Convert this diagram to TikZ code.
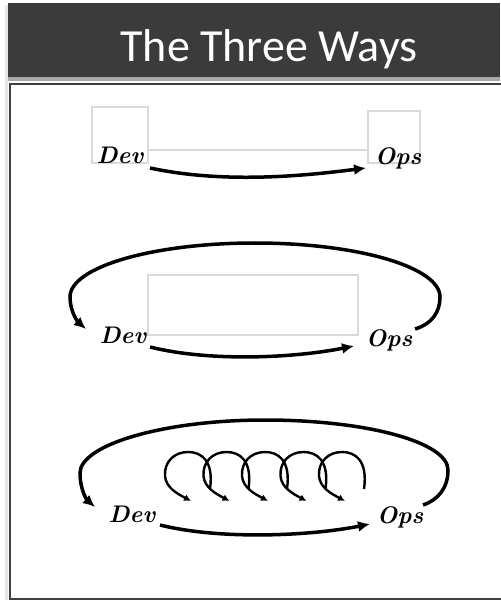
\documentclass[tikz,border=0pt]{standalone}
\usepackage{fontspec}
\newfontfamily\titlefont{Carlito}
\usetikzlibrary{arrows.meta,calc}
\definecolor{hdr}{HTML}{3B3B3B}
\definecolor{band}{HTML}{A8A8A8}
\definecolor{frame}{HTML}{404040}
\begin{document}
\begin{tikzpicture}[x=1pt,y=-1pt,
  hand/.style={font=\bfseries\itshape\fontsize{24}{24}\selectfont, inner sep=1pt},
  flow/.style={line width=3.5pt, -{Latex[length=12pt,width=11pt]}},
  curl/.style={line width=2.4pt, -{Latex[length=7pt,width=7pt]}},
  ghost/.style={draw=black!15, line width=1.2pt},
  ttl/.style={text=white, font=\titlefont\fontsize{46}{46}\selectfont, anchor=base, inner sep=0pt}]
\useasboundingbox (0,0) rectangle (500,601);
% shadow, header, frame
\fill[black!10] (5,5) rectangle (8,600);
\fill[hdr] (8,3) rectangle (500,77);
\fill[band] (8,77) rectangle (500,81);
\draw[frame, line width=2.4pt] (503,84) -- (10,84) -- (10,599) -- (503,599);
\node[ttl] (title) at (269,62) {The Three Ways};

% ---- diagram 1
\draw[ghost] (92,107) rectangle (148,163);
\draw[ghost] (368,111) rectangle (420,163);
\draw[ghost] (148,150) -- (368,150);
\node[hand] (dev1) at (120,155) {Dev};
\node[hand] (ops1) at (398,158) {Ops};
\draw[flow] ($(dev1)+(30,13)$) .. controls +(70,15) and +(-70,9) .. ($(ops1)+(-32,10)$);

% ---- diagram 2
\draw[ghost] (148,275) rectangle (358,335);
\node[hand] (dev2) at (123,335) {Dev};
\node[hand] (ops2) at (389,340) {Ops};
\draw[flow] ($(dev2)+(27,12)$) .. controls +(60,15) and +(-60,12) .. ($(ops2)+(-35,6)$);
\draw[flow] ($(ops2)+(26,-11)$) .. controls (432,324) and (440,312) .. (440,297)
  .. controls (440,267) and (357,243) .. (255,243)
  .. controls (153,243) and (70,267) .. (70,297)
  .. controls (70,312) and (78,322) .. ($(dev2)+(-37,-6)$);

% ---- diagram 3
\node[hand] (dev3) at (132,514) {Dev};
\node[hand] (ops3) at (400,517) {Ops};
\draw[flow] ($(dev3)+(28,11)$) .. controls +(60,15) and +(-60,12) .. ($(ops3)+(-30,7)$);
\draw[flow] ($(ops3)+(23,-12)$) .. controls (438,500) and (448,488) .. (448,470)
  .. controls (448,442) and (366,420) .. (265,420)
  .. controls (163,420) and (80,445) .. (80,473)
  .. controls (80,490) and (87,500) .. ($(dev3)+(-37,-7)$);
\foreach \k in {0,...,4}{
  \pgfmathsetmacro\cx{188+38.5*\k}
  \draw[curl] (\cx+22,489) .. controls (\cx+26,460) and (\cx+13,452) .. (\cx,452)
    .. controls (\cx-14,452) and (\cx-24,462) .. (\cx-23,476)
    .. controls (\cx-22,488) and (\cx-10,494) .. (\cx+3,501);
}
\end{tikzpicture}
\end{document}
